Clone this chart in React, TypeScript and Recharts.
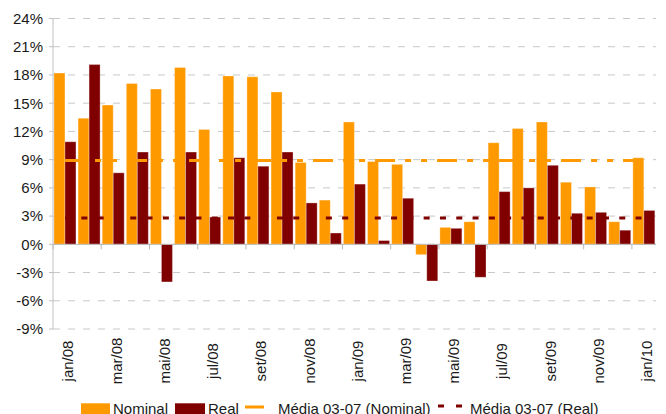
import React from "react";
import {
  Bar,
  CartesianGrid,
  ComposedChart,
  Legend,
  Line,
  ReferenceLine,
  XAxis,
  YAxis
} from "recharts";

const meses = [
  "jan/08", "fev/08", "mar/08", "abr/08", "mai/08", "jun/08", "jul/08",
  "ago/08", "set/08", "out/08", "nov/08", "dez/08", "jan/09", "fev/09",
  "mar/09", "abr/09", "mai/09", "jun/09", "jul/09", "ago/09", "set/09",
  "out/09", "nov/09", "dez/09", "jan/10"
];

const nominal = [
  18.2, 13.4, 14.8, 17.1, 16.5, 18.8, 12.2, 17.9, 17.8, 16.2, 8.7, 4.7, 13.0,
  8.8, 8.5, -1.1, 1.8, 2.4, 10.8, 12.3, 13.0, 6.6, 6.1, 2.4, 9.2
];

const real = [
  10.9, 19.1, 7.6, 9.8, -4.0, 9.8, 2.9, 9.2, 8.3, 9.8, 4.4, 1.2, 6.4, 0.4,
  4.9, -3.9, 1.7, -3.5, 5.6, 6.0, 8.4, 3.3, 3.4, 1.5, 3.6
];

const mediaNominal = 8.9;
const mediaReal = 2.8;

const yTicks = [-9, -6, -3, 0, 3, 6, 9, 12, 15, 18, 21, 24];

const data = meses.map((mes, i) => ({
  mes,
  nominal: nominal[i],
  real: real[i],
  mediaNominal,
  mediaReal
}));

const ORANGE = "#ff9900";
const DARK = "#800000";
const FONT = '"Liberation Sans", Arial, sans-serif';

const W = 666;
const H = 414;
const TOP = 18.5;
const BOTTOM = 329;
const LEFT = 53;
const RIGHT = 656;
const BAND = (RIGHT - LEFT) / meses.length;
const zeroY = TOP + (24 / 33) * (BOTTOM - TOP);

function MesTick(props: any) {
  const { x, payload } = props;
  const edge = x - BAND / 2;
  return (
    <g>
      <line x1={edge} x2={edge} y1={zeroY} y2={zeroY + 5} stroke="#b8b8b8" />
      <text
        x={x + 3}
        y={361}
        transform={`rotate(-90 ${x + 3} 361)`}
        textAnchor="middle"
        dy="0.35em"
        fontSize={15}
        fontFamily={FONT}
        fill="#1a1a1a"
      >
        {payload.value}
      </text>
    </g>
  );
}

function Legenda() {
  const ty = 20;
  return (
    <svg width={W} height={20} style={{ display: "block", overflow: "visible" }}>
      <g fontFamily={FONT} fontSize={15} fill="#1a1a1a">
        <rect x={81} y={9.3} width={29} height={12} fill={ORANGE} />
        <text x={113} y={ty}>Nominal</text>
        <rect x={175} y={9.3} width={30} height={12} fill={DARK} />
        <text x={208} y={ty}>Real</text>
        <line x1={245} x2={264} y1={13} y2={13} stroke={ORANGE} strokeWidth={3} />
        <text x={278} y={ty}>Média 03-07 (Nominal)</text>
        <line
          x1={438}
          x2={462}
          y1={12}
          y2={12}
          stroke={DARK}
          strokeWidth={3}
          strokeDasharray="6 12"
        />
        <text x={470} y={ty}>Média 03-07 (Real)</text>
      </g>
    </svg>
  );
}

export default function App() {
  return (
    <div
      style={{
        position: "fixed",
        left: 0,
        top: 0,
        width: W,
        height: H,
        overflow: "hidden",
        background: "#fff"
      }}
    >
      <ComposedChart
        width={W}
        height={H}
        data={data}
        margin={{ top: TOP, right: W - RIGHT, bottom: 0, left: 0 }}
        barCategoryGap="4%"
        barGap={0}
      >
        <CartesianGrid
          vertical={false}
          stroke="#c8c8c8"
          strokeDasharray="7 8"
        />
        <XAxis
          dataKey="mes"
          interval={1}
          height={65}
          axisLine={false}
          tickLine={false}
          tick={<MesTick />}
        />
        <YAxis
          width={LEFT}
          domain={[-9, 24]}
          ticks={yTicks}
          tickFormatter={(v) => `${v}%`}
          tickSize={4}
          tickMargin={6}
          axisLine={{ stroke: "#c0c0c0" }}
          tickLine={{ stroke: "#c0c0c0" }}
          tick={{ fill: "#1a1a1a", fontSize: 15, fontFamily: FONT }}
        />
        <ReferenceLine y={0} stroke="#b8b8b8" />
        <Bar
          dataKey="nominal"
          fill={ORANGE}
          stroke="#ffffff"
          strokeOpacity={0.3}
          isAnimationActive={false}
        />
        <Bar
          dataKey="real"
          fill={DARK}
          stroke="#ffffff"
          strokeOpacity={0.3}
          isAnimationActive={false}
        />
        <Line
          dataKey="mediaNominal"
          stroke={ORANGE}
          strokeWidth={3}
          strokeDasharray="20 10 6 10 6 10"
          dot={false}
          activeDot={false}
          isAnimationActive={false}
        />
        <Line
          dataKey="mediaReal"
          stroke={DARK}
          strokeWidth={3}
          strokeDasharray="6 10.3"
          dot={false}
          activeDot={false}
          isAnimationActive={false}
        />
        <Legend
          verticalAlign="bottom"
          content={<Legenda />}
          wrapperStyle={{ left: 0, bottom: 0, width: W, height: 20 }}
        />
      </ComposedChart>
    </div>
  );
}
